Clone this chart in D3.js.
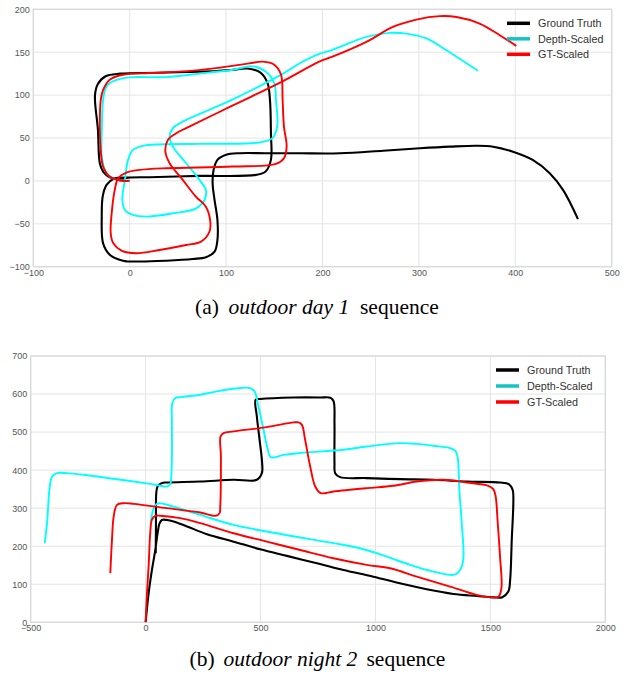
<!DOCTYPE html>
<html>
<head>
<meta charset="utf-8">
<script src="https://cdn.jsdelivr.net/npm/d3@7"></script>
<style>
  html, body { margin: 0; padding: 0; background: #fff; }
  svg { display: block; }
</style>
</head>
<body>
<svg id="chart" width="627" height="679"></svg>
<script>
// ---------------- DATA ----------------
const seriesNames = ["Ground Truth", "Depth-Scaled", "GT-Scaled"];

// (a) outdoor day 1
const dayXTicks = [-100, 0, 100, 200, 300, 400, 500];
const dayYTicks = [-100, -50, 0, 50, 100, 150, 200];

const dayGroundTruth = [
  [0,4],[-13.8,2.3],[-20.7,4.3],[-27.6,10.9],[-31,20.6],[-33,60],[-36,100],[-33,113],[-25,122],[-10,125],
  [30,126],[60,127],[90,128],[107,129.5],[122,131],[136,126],[143,114],[145.5,94.5],[146.5,55.6],[146.5,24.5],
  [141,11],[131,7],[72,5.8],[20.7,4.3],[0,3.9],[-17,2.3],[-24,-4.7],[-28,-18],[-29,-41.6],[-27.6,-72.8],
  [-20.7,-86],[-7,-93],[10,-94],[38,-93],[65.5,-91],[79,-89],[88,-82.5],[91,-69],[91,-45.5],[88,-22],
  [86,-2.7],[87,12.8],[91,24.5],[100,30.4],[114,32.3],[141,32.3],[176,32.2],[218,32.2],[263,35.2],[301,38],
  [332,39.9],[360,41],[377,39.9],[397.6,34],[418,24.4],[435.7,9],[449.5,-10.5],[465,-44.5]
];
const dayDepthScaled = [
  [0,0.5],[-13.8,1.2],[-24,9],[-29,28.4],[-29,55.6],[-27.6,94.5],[-25,108],[-20.7,114],[-10,119],[3.4,121],
  [38,121],[72.4,125],[107,129.6],[127.6,133.5],[141,127.6],[150,114],[151.7,94.5],[153,63.4],[148,49.8],[134.5,44.7],
  [72.4,43.2],[13.8,40.9],[3.4,36.2],[-1.7,24.5],[-5,1.2],[-7.6,-22],[-5,-33.9],[3.4,-39.7],[17,-41.6],[45,-37.7],
  [69,-32],[77.6,-22],[79,-10.5],[72.4,1.2],[58.6,20.6],[44.8,40],[41.4,51.8],[44.8,61.5],[55,69],[107,95],
  [159,125],[176,136.8],[196.6,148],[211,153],[245.5,167.8],[269.7,172.5],[287,171.7],[307.8,166],[328.5,152.3],[361.3,128.3]
];
const dayGTScaled = [
  [0,0],[-10,0.5],[-20.7,5],[-27.6,16.7],[-30.3,40],[-31,71],[-30,94.5],[-27.6,106],[-20.7,118],[-7,123.7],
  [20.7,125.7],[55,127.6],[89.6,131.5],[124,137],[138,139],[150,135.4],[157,123.7],[158.6,94.5],[160,63.4],[162.8,40],
  [160,26.5],[151.7,19.8],[107,16.7],[38,14.8],[10.3,12.8],[-3.4,9.7],[-12,3],[-15.5,-10.5],[-18,-30],[-19.7,-61],
  [-17,-72.8],[-8.6,-81.3],[6.9,-84.4],[31,-80.5],[58.6,-74.7],[74,-70.8],[82.8,-59],[83.4,-45.5],[79,-30],[68.6,-18.3],
  [55,1.2],[41.4,20.6],[37,34.2],[39.7,47.9],[48.3,55.6],[58.6,61.5],[107,88],[158.6,116],[196.6,139],[211,145],
  [245.5,162],[273,179.4],[297.4,188],[321.6,192],[339,191],[363,183.4],[383.8,169.8],[401,157.4]
];

// (b) outdoor night 2
const nightXTicks = [-500, 0, 500, 1000, 1500, 2000];
const nightYTicks = [0, 100, 200, 300, 400, 500, 600, 700];

const nightGroundTruth = [
  [0,0],[13,76],[27.5,137.7],[42,190],[52,234],[61,260.5],[71,269],[93,269],[122,265],[180,252],
  [267,231.6],[383,212],[498.5,192],[614.5,174.6],[759,153],[860.9,137.7],[991,120],[1107,102.6],[1223,86.8],[1339,74.6],
  [1441,69.3],[1513,65.8],[1552,66],[1578,80.7],[1586,111.4],[1593,216.7],[1600,322],[1597,348],[1580,363],[1542,367.5],
  [1397,370],[1252,374.6],[1107,376.3],[962,379],[846,381.6],[824.6,392],[821.7,418.4],[821.7,523.7],[818,580.7],[805,590],
  [759,591],[643.5,591],[498.5,587],[479,585],[484,541],[495.7,480],[507,418.4],[505.8,392],[484,374.6],[382.6,374.6],
  [237.7,370],[92.8,367.5],[71,366],[52,357],[46.4,339.5],[45,260.5],[44,181.6]
];
const nightDepthScaled = [
  [22,262],[30,290],[42,308],[58,313],[80,311],[122,304],[237.7,282.5],[382.6,256],[527.5,238.6],[672.5,223],
  [817.4,208],[933,194.7],[1049,172.8],[1150.7,151],[1252,133.3],[1339,124.6],[1356,129],[1375.4,146.5],[1383,172.8],[1375.4,260.5],
  [1365,348],[1357,436],[1347,451],[1325,458],[1252,464],[1180,469],[1107,471],[962,462],[861,453.5],[672.5,445],
  [600,440],[545,434],[530,458],[513,506],[491,567.5],[474,607],[455,615.8],[411.6,615.8],[310,607],[237.7,598],
  [150.7,592],[129,589.5],[116,576],[114.5,523.7],[114.5,436],[111.6,383],[107,363],[92.8,357],[20,364],[-124.6,376],
  [-269.6,387.7],[-342,392],[-385.5,392],[-407,383],[-417,357],[-429,260.5],[-439,208]
];
const nightGTScaled = [
  [0,0],[5.8,76],[13,146.5],[20,234],[27.5,270],[42,280],[64,280],[150.7,273.7],[237.7,260.5],[382.6,234],
  [527.5,212],[672.5,190],[817,168.4],[962,151],[1063.8,142],[1179.7,120],[1324.6,93.9],[1440.6,72],[1513,65],[1535,67],
  [1548,89.5],[1542,172.8],[1532,260.5],[1523,330.7],[1513,350],[1491,358.8],[1397,367.5],[1296,374.6],[1179.7,370],[1078,358.8],
  [962,352.6],[817,343.9],[762,339.5],[738,357],[716,409.6],[694,479.8],[680,519],[665,525.4],[643.5,525.4],[527.5,513],
  [382.6,501.8],[339,497.4],[326,488.6],[327.5,436],[324.6,304],[321.7,287],[305,280],[237.7,288.6],[92.8,300],[-52,311.4],
  [-95.6,313],[-124.6,308.8],[-139,278],[-146.4,216.7],[-153.6,129]
];

// ---------------- DRAWING ----------------
const colors = ["#000000", "#00ffff", "#ff0000"];
const legendColors = ["#000000", "#13c4c4", "#ff0000"];
const svg = d3.select("#chart");
const fmt = d => (d < 0 ? "\u2212" + Math.abs(d) : String(d));

function panel(cfg) {
  const x = d3.scaleLinear().domain(cfg.xDomain).range([cfg.left, cfg.right]);
  const y = d3.scaleLinear().domain(cfg.yDomain).range([cfg.bottom, cfg.top]);
  const g = svg.append("g");

  // grid
  g.append("g").selectAll("line").data(cfg.xTicks).join("line")
    .attr("x1", d => x(d)).attr("x2", d => x(d))
    .attr("y1", cfg.top).attr("y2", cfg.bottom)
    .attr("stroke", "#e4e4e4").attr("stroke-width", 1);
  g.append("g").selectAll("line").data(cfg.yTicks).join("line")
    .attr("y1", d => y(d)).attr("y2", d => y(d))
    .attr("x1", cfg.left).attr("x2", cfg.right)
    .attr("stroke", "#e4e4e4").attr("stroke-width", 1);

  // frame
  g.append("rect").attr("x", cfg.left).attr("y", cfg.top)
    .attr("width", cfg.right - cfg.left).attr("height", cfg.bottom - cfg.top)
    .attr("fill", "none").attr("stroke", "#d8d8d8").attr("stroke-width", 1.2);

  // axes
  const xa = g.append("g").attr("transform", `translate(0,${cfg.bottom})`)
    .call(d3.axisBottom(x).tickValues(cfg.xTicks).tickFormat(fmt).tickSize(0).tickPadding(2.5));
  const ya = g.append("g").attr("transform", `translate(${cfg.left},0)`)
    .call(d3.axisLeft(y).tickValues(cfg.yTicks).tickFormat(fmt).tickSize(0).tickPadding(3.5));
  [xa, ya].forEach(a => {
    a.select(".domain").remove();
    a.selectAll("text").attr("font-family", "'Liberation Sans', Arial, sans-serif")
      .attr("font-size", "9px").attr("fill", "#555");
  });

  // lines
  const line = d3.line().x(d => x(d[0])).y(d => y(d[1]))
    .curve(d3.curveCatmullRom.alpha(0.5));
  const clipId = "clip" + cfg.id;
  svg.append("clipPath").attr("id", clipId).append("rect")
    .attr("x", cfg.left).attr("y", cfg.top)
    .attr("width", cfg.right - cfg.left).attr("height", cfg.bottom - cfg.top);
  const lg = g.append("g").attr("clip-path", `url(#${clipId})`);
  cfg.series.forEach((s, i) => {
    lg.append("path").datum(s).attr("d", line)
      .attr("fill", "none").attr("stroke", colors[i])
      .attr("stroke-width", i === 0 ? 2.1 : 1.9)
      .attr("stroke-linejoin", "round").attr("stroke-linecap", "butt");
  });

  // legend
  const leg = g.append("g");
  seriesNames.forEach((name, i) => {
    const yy = cfg.legY + i * cfg.legDy;
    leg.append("line").attr("x1", cfg.legX).attr("x2", cfg.legX + 23)
      .attr("y1", yy).attr("y2", yy)
      .attr("stroke", legendColors[i]).attr("stroke-width", 3.5);
    leg.append("text").attr("x", cfg.legX + 31).attr("y", yy).attr("dy", "0.35em")
      .attr("font-family", "'Liberation Sans', Arial, sans-serif")
      .attr("font-size", "10.8px").attr("fill", "#333").text(name);
  });

  // caption
  const cap = svg.append("g").attr("font-family", "'Liberation Serif', 'Times New Roman', serif")
    .attr("font-size", cfg.capSize + "px").attr("fill", "#000");
  cap.append("text").attr("x", cfg.cap[0].x).attr("y", cfg.capY).text(cfg.cap[0].t);
  cap.append("text").attr("x", cfg.cap[1].x).attr("y", cfg.capY).attr("font-style", "italic").text(cfg.cap[1].t);
  cap.append("text").attr("x", cfg.cap[2].x).attr("y", cfg.capY).text(cfg.cap[2].t);
}

panel({
  id: "a", xDomain: [-100, 500], yDomain: [-100, 200],
  left: 33.3, right: 611.7, top: 9.3, bottom: 266.7,
  xTicks: dayXTicks, yTicks: dayYTicks,
  series: [dayGroundTruth, dayDepthScaled, dayGTScaled],
  legX: 507, legY: 23.3, legDy: 15.5,
  capY: 314, capSize: 21.5,
  cap: [{x: 195, t: "(a)"}, {x: 228.5, t: "outdoor day 1"}, {x: 360, t: "sequence"}]
});

panel({
  id: "b", xDomain: [-500, 2000], yDomain: [0, 700],
  left: 30.7, right: 605.3, top: 356, bottom: 622.3,
  xTicks: nightXTicks, yTicks: nightYTicks,
  series: [nightGroundTruth, nightDepthScaled, nightGTScaled],
  legX: 496, legY: 370, legDy: 16,
  capY: 666, capSize: 21.5,
  cap: [{x: 189.5, t: "(b)"}, {x: 223.5, t: "outdoor night 2"}, {x: 366.5, t: "sequence"}]
});
</script>
</body>
</html>
